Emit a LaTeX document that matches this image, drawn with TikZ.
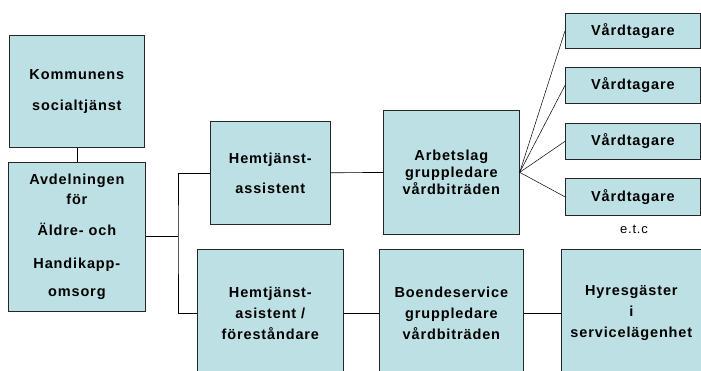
\documentclass[tikz,border=0pt]{standalone}
\usepackage{fontspec}
\setmainfont{Liberation Sans}[LetterSpace=6]
\definecolor{boxblue}{RGB}{189,224,228}

\begin{document}
\begin{tikzpicture}[x=1pt, y=-1pt, line width=0.7pt,
  box/.style={draw=black!85, fill=boxblue, anchor=north west, align=center, inner sep=0pt,
    font=\fontsize{14.5}{19}\selectfont\bfseries}]
\useasboundingbox (0,0) rectangle (701,370);

\node[box, minimum width=135, minimum height=112] (kommun) at (9, 35) {Kommunens\\[12pt]socialtjänst};
\node[box, minimum width=137, minimum height=149] (avd) at (8, 162) {Avdelningen\\[1pt]för\\[12pt]Äldre- och\\[14pt]Handikapp-\\[9pt]omsorg};
\node[box, minimum width=120, minimum height=103] (hemass) at (210, 121) {Hemtjänst-\\[11pt]assistent};
\node[box, minimum width=136, minimum height=124, font=\fontsize{14.5}{17}\selectfont\bfseries] (arbet) at (383, 110) {Arbetslag\\gruppledare\\vårdbiträden};
\node[box, minimum width=146, minimum height=128, font=\fontsize{14.5}{21}\selectfont\bfseries] (hemfor) at (197, 249) {Hemtjänst-\\asistent /\\föreståndare};
\node[box, minimum width=144, minimum height=128, font=\fontsize{14.5}{21}\selectfont\bfseries] (boende) at (379, 249) {Boendeservice\\gruppledare\\vårdbiträden};
\node[box, minimum width=140, minimum height=128, font=\fontsize{14.5}{21}\selectfont\bfseries] (hyres) at (561, 249) {Hyresgäster\\i\\servicelägenhet};

\node[box, minimum width=135, minimum height=35] (vard1) at (565, 13) {Vårdtagare};
\node[box, minimum width=135, minimum height=36] (vard2) at (565, 67) {Vårdtagare};
\node[box, minimum width=135, minimum height=36] (vard3) at (565, 123) {Vårdtagare};
\node[box, minimum width=135, minimum height=37] (vard4) at (565, 178) {Vårdtagare};
\node[font=\fontsize{13}{15}\selectfont] (etc) at (634, 229) {e.t.c};

\coordinate (split) at (178, 236);

\draw (kommun) -- (avd);
\draw (avd.east |- split) -- (split);
\draw (hemass.west) -| (split) |- (hemfor.west);
\draw (hemass) -- (arbet);
\foreach \v in {1,...,4}
  \draw[line width=0.5pt] (arbet.east) -- (vard\v.west);
\draw (hemfor) -- (boende);
\draw (boende) -- (hyres);

\end{tikzpicture}
\end{document}
